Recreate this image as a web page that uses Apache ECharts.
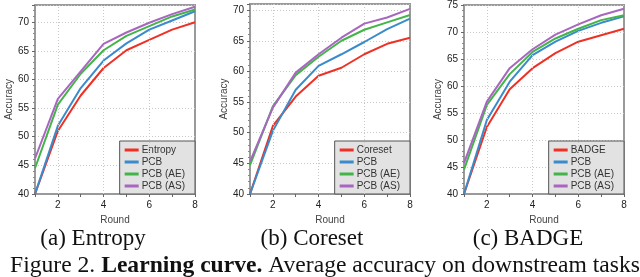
<!DOCTYPE html>
<html>
<head>
<meta charset="utf-8">
<script src="https://cdn.jsdelivr.net/npm/echarts@6/dist/echarts.min.js"></script>
<style>html,body{margin:0;padding:0;background:#fff}#c{width:640px;height:277px}</style>
</head>
<body>
<div id="c"></div>
<script>
const rounds = [1, 2, 3, 4, 5, 6, 7, 8];
const xTicks = [2, 4, 6, 8];

// (a) Entropy
const entropyA = [40.0, 51.0, 57.2, 62.0, 65.1, 66.9, 68.7, 70.0];
const pcbA     = [40.0, 51.9, 58.5, 63.3, 66.3, 68.7, 70.3, 71.9];
const pcbAeA   = [44.5, 55.6, 61.0, 65.1, 67.6, 69.3, 71.0, 72.2];
const pcbAsA   = [46.2, 56.6, 61.4, 66.2, 68.2, 69.9, 71.4, 72.7];
// (b) Coreset
const coresetB = [40.0, 51.1, 55.9, 59.3, 60.6, 62.8, 64.5, 65.5];
const pcbB     = [40.0, 50.3, 57.0, 60.9, 62.8, 64.8, 66.9, 68.6];
const pcbAeB   = [44.7, 54.3, 59.4, 62.4, 65.0, 66.8, 68.0, 69.2];
const pcbAsB   = [45.3, 54.1, 59.8, 62.8, 65.5, 67.8, 68.8, 70.2];
// (c) BADGE
const badgeC   = [40.0, 52.4, 59.4, 63.3, 66.1, 68.2, 69.4, 70.6];
const pcbC     = [40.0, 53.7, 60.8, 65.7, 68.2, 70.2, 71.7, 72.9];
const pcbAeC   = [44.5, 56.5, 62.2, 66.3, 68.8, 70.6, 72.2, 73.1];
const pcbAsC   = [45.7, 57.1, 63.3, 66.8, 69.5, 71.4, 73.1, 74.3];

const yMax = [73, 71, 75];
const subCaptions = ['(a) Entropy', '(b) Coreset', '(c) BADGE'];
const baselines = ['Entropy', 'Coreset', 'BADGE'];

const COLORS = ['#ee3124', '#3a8bcb', '#43b548', '#a866c0'];
const panels = [
  [entropyA, pcbA, pcbAeA, pcbAsA],
  [coresetB, pcbB, pcbAeB, pcbAsB],
  [badgeC, pcbC, pcbAeC, pcbAsC]
];
const grids = [
  {left: 35, top: 5, width: 160, height: 189},
  {left: 250, top: 4, width: 160, height: 190},
  {left: 464, top: 5, width: 160, height: 189}
];
const capX = [88, 307, 523];

const chart = echarts.init(document.getElementById('c'), null, {renderer: 'canvas'});

const option = {
  animation: false,
  backgroundColor: '#fff',
  title: [],
  grid: [],
  xAxis: [],
  yAxis: [],
  legend: [],
  series: []
};

grids.forEach((g, i) => {
  option.grid.push(Object.assign({show: true, borderColor: '#9a9a9a', borderWidth: 2, backgroundColor: 'transparent'}, g));
  option.xAxis.push({
    type: 'value', gridIndex: i, min: 1, max: 8, interval: 1,
    name: 'Round', nameLocation: 'middle', nameGap: 17,
    nameTextStyle: {fontFamily: 'Liberation Sans', fontSize: 10, color: '#444'},
    axisLine: {show: true, lineStyle: {color: '#9a9a9a', width: 2}},
    axisTick: {show: true, length: 3, lineStyle: {color: '#666'}},
    axisLabel: {fontFamily: 'Liberation Sans', fontSize: 10, color: '#222', margin: 6,
      formatter: v => xTicks.includes(v) ? String(v) : ''},
    splitLine: {show: false}
  });
  option.yAxis.push({
    type: 'value', gridIndex: i, min: 40, max: yMax[i], interval: 5,
    name: 'Accuracy', nameLocation: 'middle', nameGap: 21,
    nameTextStyle: {fontFamily: 'Liberation Sans', fontSize: 10, color: '#444'},
    axisLine: {show: true, lineStyle: {color: '#9a9a9a', width: 2}},
    axisTick: {show: true, length: 3, lineStyle: {color: '#666'}},
    minorTick: {show: true, splitNumber: 5, length: 2, lineStyle: {color: '#888'}},
    axisLabel: {fontFamily: 'Liberation Sans', fontSize: 10, color: '#222', margin: 6,
      formatter: v => (v % 5 === 0 ? String(v) : '')},
    splitLine: {show: true, lineStyle: {color: '#c8c8c8', type: [1, 2], width: 1}}
  });
  const names = [baselines[i], 'PCB', 'PCB (AE)', 'PCB (AS)'];
  panels[i].forEach((vals, k) => {
    const s = {
      type: 'line', name: names[k], xAxisIndex: i, yAxisIndex: i,
      data: rounds.map((r, j) => [r, vals[j]]),
      showSymbol: false, symbol: 'none',
      lineStyle: {color: COLORS[k], width: 2},
      itemStyle: {color: COLORS[k]},
      z: 3 + k
    };
    if (k === 0) {
      s.markLine = {
        silent: true, symbol: 'none', label: {show: false},
        lineStyle: {color: '#c8c8c8', type: [1, 2], width: 1},
        data: [{xAxis: 2}, {xAxis: 4}, {xAxis: 6}]
      };
    }
    option.series.push(s);
  });
  option.legend.push({
    data: names,
    right: 640 - (g.left + g.width),
    bottom: 277 - (g.top + g.height),
    orient: 'vertical',
    icon: 'rect', itemWidth: 14, itemHeight: 3, itemGap: 2,
    padding: [4, 10, 3, 5],
    backgroundColor: '#e2e2e2', borderColor: '#555', borderWidth: 1,
    textStyle: {fontFamily: 'Liberation Sans', fontSize: 10, color: '#333', padding: [0, 0, 0, -2]},
    selectedMode: false
  });
  option.title.push({
    text: subCaptions[i], left: capX[i], top: 222, textAlign: 'center',
    textStyle: {fontFamily: 'Liberation Serif', fontSize: 23, fontWeight: 'normal', color: '#111'}
  });
});

option.title.push({
  text: 'Figure 2. {b|Learning curve.} Average accuracy on downstream tasks',
  left: 320, top: 249, textAlign: 'center',
  textStyle: {fontFamily: 'Liberation Serif', fontSize: 23.6, fontWeight: 'normal', color: '#111',
    rich: {b: {fontFamily: 'Liberation Serif', fontSize: 23.6, fontWeight: 'bold', color: '#111'}}}
});

chart.setOption(option);
</script>
</body>
</html>
